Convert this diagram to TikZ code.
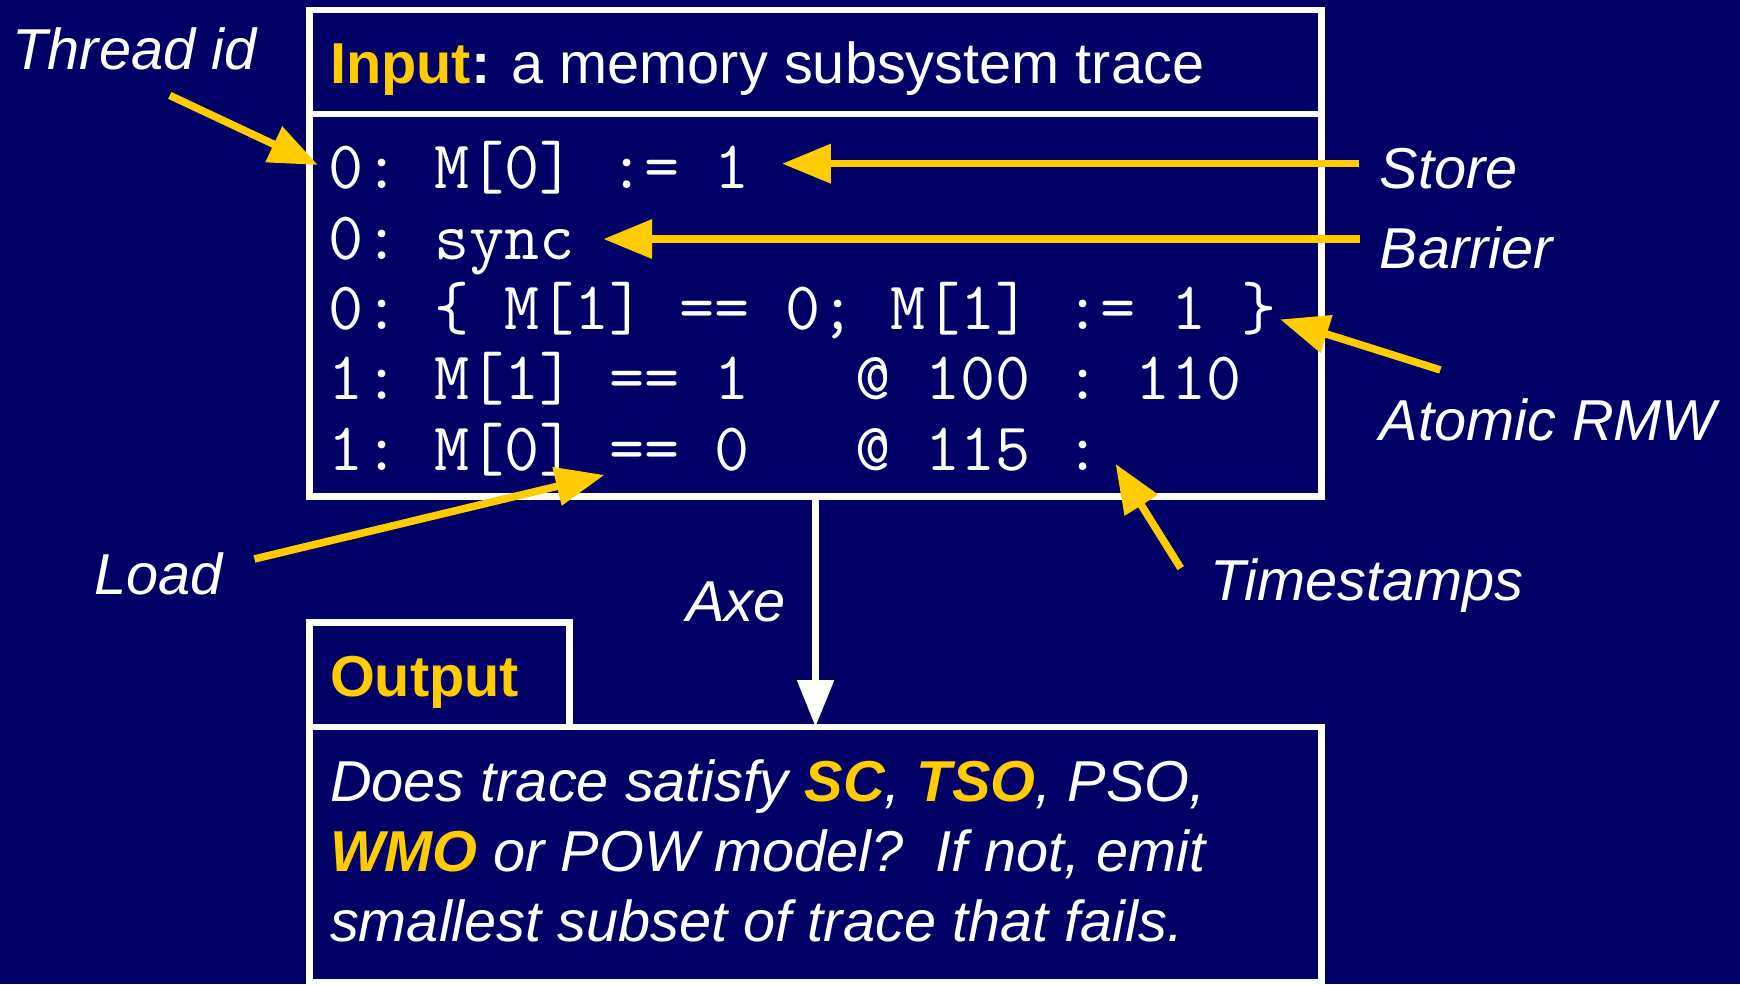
\documentclass[tikz,border=0pt]{standalone}
\usepackage{fontspec}
\setmainfont{Liberation Sans}
\usetikzlibrary{calc,arrows.meta,positioning}
\definecolor{navy}{RGB}{0,0,102}
\definecolor{gold}{RGB}{255,204,0}
\newcommand{\hl}[1]{\textcolor{gold}{\textbf{#1}}}

\begin{document}
\begin{tikzpicture}[x=0.5pt,y=-0.5pt,text=white,
    font=\fontsize{26}{31.5}\selectfont,
    box/.style={draw=white,line width=3pt,outer sep=0pt,inner sep=0pt,minimum width=455.9pt},
    code/.style={font=\ttfamily\frenchspacing\fontsize{30.7}{31.5}\selectfont,inner sep=0pt,anchor=base west},
    lbl/.style={font=\itshape\fontsize{26}{31.5}\selectfont,inner sep=0pt},
    ptr/.style={draw=gold,line width=3.4pt,-{Triangle[length=22pt,width=17pt]}},
    flow/.style={draw=white,line width=3pt,-{Triangle[length=21pt,width=16pt]}}]
  \fill[navy] (0,0) rectangle (1568,887);
  \useasboundingbox (0,0) rectangle (1568,887);

  \node[box,minimum height=46.9pt,anchor=north west] (inhead) at (279,9) {};
  \node[box,minimum height=172.2pt,below=0pt of inhead] (incode) {};
  \node[box,minimum height=115pt,anchor=north west] (outbody) at (279,655) {};
  \node[box,minimum width=117pt,minimum height=47pt,anchor=south west] (outhead) at (outbody.north west) {};

  \node[inner sep=0pt,anchor=base west] (intitle) at (297,75) {\hl{Input}\textbf{:} a memory subsystem trace};
  \node[inner sep=0pt,anchor=base west] (outtitle) at (297,628) {\hl{Output}};

  \foreach \t [count=\i] in {{0: M[0] := 1},{0: sync},{0: \{ M[1] == 0; M[1] := 1 \}},
      {1: M[1] == 1~~~@ 100 : 110},{1: M[0] == 0~~~@ 115 :}} {
    \node[code] (l\i) at (296,{170+63.4*(\i-1)}) {\t};
  }

  \node[lbl,anchor=base west] (body1) at (297,722) {Does trace satisfy \hl{SC}, \hl{TSO}, PSO,};
  \node[lbl,anchor=base west] (body2) at (297,785.5) {\hl{WMO} or POW model?~~If not, emit};
  \node[lbl,anchor=base west] (body3) at (297,848.6) {smallest subset of trace that fails.};

  \node[lbl,anchor=base west] (tid) at (11,63) {Thread id};
  \node[lbl,anchor=base west] (store) at (1243,170) {Store};
  \node[lbl,anchor=base west] (barrier) at (1243,242) {Barrier};
  \node[lbl,anchor=base west] (rmw) at (1243,397) {Atomic RMW};
  \node[lbl,anchor=base east] (load) at (201,536) {Load};
  \node[lbl,anchor=base west] (stamps) at (1090,541) {Timestamps};

  \draw[ptr] ($(tid.base west)+(142,23)$) -- ($(l1.base west)+(-9.5,-21.3)$);
  \draw[ptr] ($(store.base west)+(-18.4,-22.5)$) -- ($(l1.base east)+(28.4,-22.5)$);
  \draw[ptr] ($(barrier.base west)+(-17.4,-26.6)$) -- ($(l2.base east)+(25.5,-18)$);
  \draw[ptr] ($(rmw.base west)+(55,-63.6)$) -- ($(l3.base east)+(3,-9)$);
  \draw[ptr] ($(load.base east)+(28.3,-32.3)$) -- ($(l5.base west)+(248.7,4.4)$);
  \draw[ptr] ($(stamps.base west)+(-26,-29)$) -- ($(l5.base east)+(12.8,-5.6)$);

  \draw[flow] (incode.south) -- node[lbl,left=12pt,pos=0.46] (axe) {Axe} (outbody.north);
\end{tikzpicture}
\end{document}
